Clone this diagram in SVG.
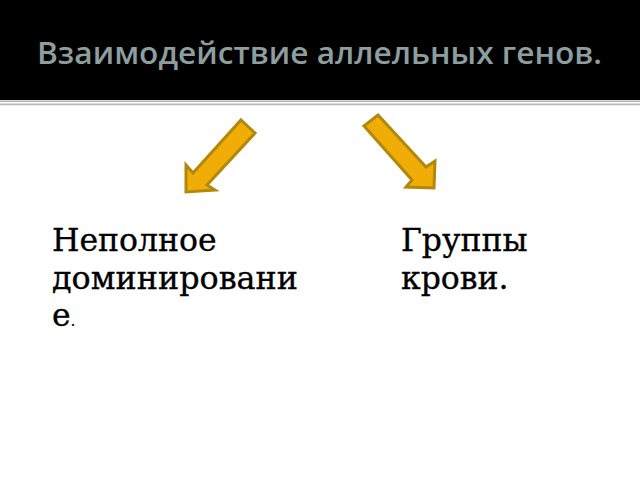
<svg xmlns="http://www.w3.org/2000/svg" width="640" height="480" viewBox="0 0 640 480">
<style>
.title{font-family:"Open Sans","DejaVu Sans",sans-serif;font-weight:600;font-size:30px;fill:#8c9e9e}
.body{font-family:"DejaVu Serif","Liberation Serif",serif;font-size:31.5px;fill:#000;stroke:#000;stroke-width:0.35}
.arrow{fill:#f0ad06;stroke:#b3870a;stroke-width:3;stroke-linejoin:miter}
</style>
<rect x="0" y="0" width="640" height="480" fill="#ffffff"/>
<rect x="0" y="0" width="640" height="100" fill="#000000"/>
<rect x="0" y="100.5" width="640" height="1.5" fill="#b0b0b0"/>
<rect x="0" y="103.5" width="640" height="1.8" fill="#b8b8b8"/>
<text class="title" x="37" y="64" textLength="565" lengthAdjust="spacingAndGlyphs">Взаимодействие аллельных генов.</text>
<g id="connectors">
<polygon class="arrow" points="241,120 255,133 207,185 215,190 186,192 186,165 193,173"/>
<polygon class="arrow" points="378,115 426,167 435,161 434,188 406,187 412,180 364,126"/>
</g>
<g id="node-left">
<text class="body" x="52" y="251">Неполное</text>
<text class="body" x="52" y="288.5" textLength="246" lengthAdjust="spacingAndGlyphs">доминировани</text>
<text class="body" x="52" y="326">е<tspan font-size="14">.</tspan></text>
</g>
<g id="node-right">
<text class="body" x="401" y="251">Группы</text>
<text class="body" x="401" y="288.5">крови.</text>
</g>
</svg>
